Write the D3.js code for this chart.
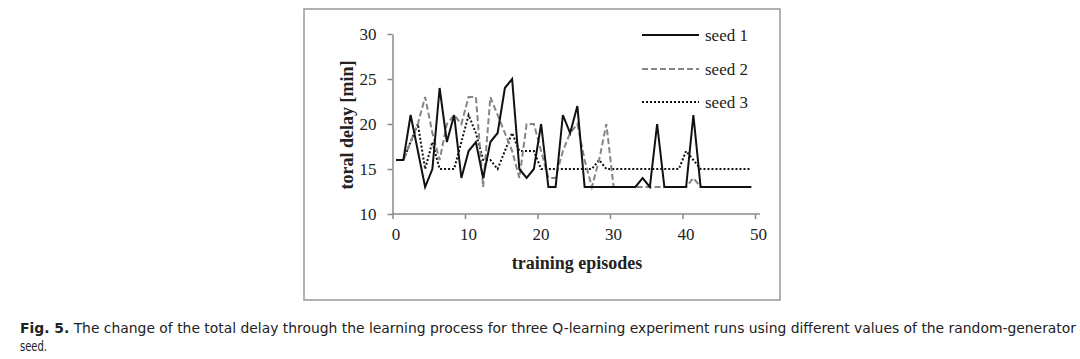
<!DOCTYPE html>
<html>
<head>
<meta charset="utf-8">
<script src="https://cdn.jsdelivr.net/npm/d3@7"></script>
<style>
  html, body { margin: 0; padding: 0; background: #fff; }
  svg { display: block; }
</style>
</head>
<body>
<svg id="chart" width="1080" height="359"></svg>
<script>
// ---- data ----
const episodes = d3.range(0, 50);
const seed1 = [16,16,21,17,13,15,24,18,21,14, 17,18,14,18,19,24,25,15,14,15,
               20,13,13,21,19,22,13,13,13,13, 13,13,13,13,14,13,20,13,13,13,
               13,21,13,13,13,13,13,13,13,13];
const seed2 = [16,16,18,20,23,19,16,20,21,20, 23,23,13,23,21,19,17,14,20,20,
               17,14,14,17,19,20,16,13,16,20, 13,13,13,13,13,13,13,13,13,13,
               13,14,13,13,13,13,13,13,13,13];
const seed3 = [16,16,18,20,15,18,15,15,15,18, 21,19,16,16,15,17,19,17,17,17,
               15,15,15,15,15,15,15,15,16,15, 15,15,15,15,15,15,15,15,15,15,
               17,16,15,15,15,15,15,15,15,15];
const seriesNames = ["seed 1", "seed 2", "seed 3"];
const xTicks = [0, 10, 20, 30, 40, 50];
const yTicks = [10, 15, 20, 25, 30];
const captionBold = "Fig. 5.";
const captionLine1 = " The change of the total delay through the learning process for three Q-learning experiment runs using different values of the random-generator";
const captionLine2 = "seed.";

// ---- layout ----
const svg = d3.select("#chart");
const serif = "'Liberation Serif', 'Times New Roman', serif";
const capFont = "'Liberation Sans Narrow', 'DejaVu Sans Condensed', 'Liberation Sans', sans-serif";
const axisColor = "#8a8a8a";

// frame
svg.append("rect")
  .attr("x", 304).attr("y", 9).attr("width", 476).attr("height", 291)
  .attr("fill", "none").attr("stroke", "#999").attr("stroke-width", 1.5);

const x = d3.scaleLinear().domain([0, 50]).range([392.5, 755]);
const xBand = d3.scaleBand().domain(episodes).range([392.5, 755]);
const y = d3.scaleLinear().domain([10, 30]).range([214, 34]);

// y axis
const gy = svg.append("g").attr("transform", `translate(${x(0)},0)`)
  .call(d3.axisLeft(y).tickValues(yTicks).tickSize(5).tickPadding(11).tickSizeOuter(0));
gy.select(".domain").attr("stroke", axisColor).attr("stroke-width", 1.5);
gy.selectAll(".tick line").attr("stroke", axisColor).attr("stroke-width", 1.5);
gy.selectAll(".tick text").attr("font-family", serif).attr("font-size", 17).attr("fill", "#222");

// x axis
const gx = svg.append("g").attr("transform", `translate(0,${y(10)})`)
  .call(d3.axisBottom(x).tickValues(xTicks).tickSize(5).tickPadding(9).tickSizeOuter(0));
gx.select(".domain").attr("stroke", axisColor).attr("stroke-width", 1.5)
  .attr("d", `M${x(0)},0H${x(50) + 5}`);
gx.selectAll(".tick line").attr("stroke", axisColor).attr("stroke-width", 1.5);
gx.selectAll(".tick text").attr("font-family", serif).attr("font-size", 17).attr("fill", "#222").attr("dx", 3);

// axis titles
svg.append("text")
  .attr("x", 577).attr("y", 269)
  .attr("text-anchor", "middle")
  .attr("font-family", serif).attr("font-size", 18).attr("font-weight", "bold").attr("fill", "#222")
  .text("training episodes");
svg.append("text")
  .attr("transform", "translate(347,125) rotate(-90)")
  .attr("text-anchor", "middle").attr("dy", "0.35em")
  .attr("font-family", serif).attr("font-size", 18).attr("font-weight", "bold").attr("fill", "#222")
  .text("toral delay [min]");

// series
const styles = [
  { color: "#111", dash: null, width: 2 },
  { color: "#858585", dash: "6,3", width: 2 },
  { color: "#111", dash: "2,2", width: 2 }
];
const allSeries = [seed1, seed2, seed3];
const line = d3.line()
  .x((d, i) => xBand(episodes[i]) + xBand.bandwidth() / 2)
  .y(d => y(d));

// draw seed 3, then seed 2, then seed 1 on top
[2, 1, 0].forEach(k => {
  svg.append("path")
    .datum(allSeries[k])
    .attr("d", line)
    .attr("fill", "none")
    .attr("stroke", styles[k].color)
    .attr("stroke-width", styles[k].width)
    .attr("stroke-dasharray", styles[k].dash)
    .attr("stroke-linejoin", "miter");
});

// legend
const legendY = [35, 69, 102];
seriesNames.forEach((name, k) => {
  svg.append("line")
    .attr("x1", 642).attr("x2", 699)
    .attr("y1", legendY[k]).attr("y2", legendY[k])
    .attr("stroke", styles[k].color)
    .attr("stroke-width", styles[k].width)
    .attr("stroke-dasharray", styles[k].dash);
  svg.append("text")
    .attr("x", 705).attr("y", legendY[k]).attr("dy", "0.35em")
    .attr("font-family", serif).attr("font-size", 17).attr("fill", "#222")
    .text(name);
});

// caption
const cap = svg.append("text")
  .attr("x", 20).attr("y", 333)
  .attr("font-family", capFont)
  .attr("font-size", 14).attr("fill", "#222")
  .attr("textLength", 1056).attr("lengthAdjust", "spacingAndGlyphs");
cap.append("tspan").attr("font-weight", "bold").text(captionBold);
cap.append("tspan").text(captionLine1);
svg.append("text")
  .attr("x", 20).attr("y", 351)
  .attr("font-family", capFont)
  .attr("font-size", 14).attr("fill", "#222")
  .attr("textLength", 27).attr("lengthAdjust", "spacingAndGlyphs")
  .text(captionLine2);
</script>
</body>
</html>
